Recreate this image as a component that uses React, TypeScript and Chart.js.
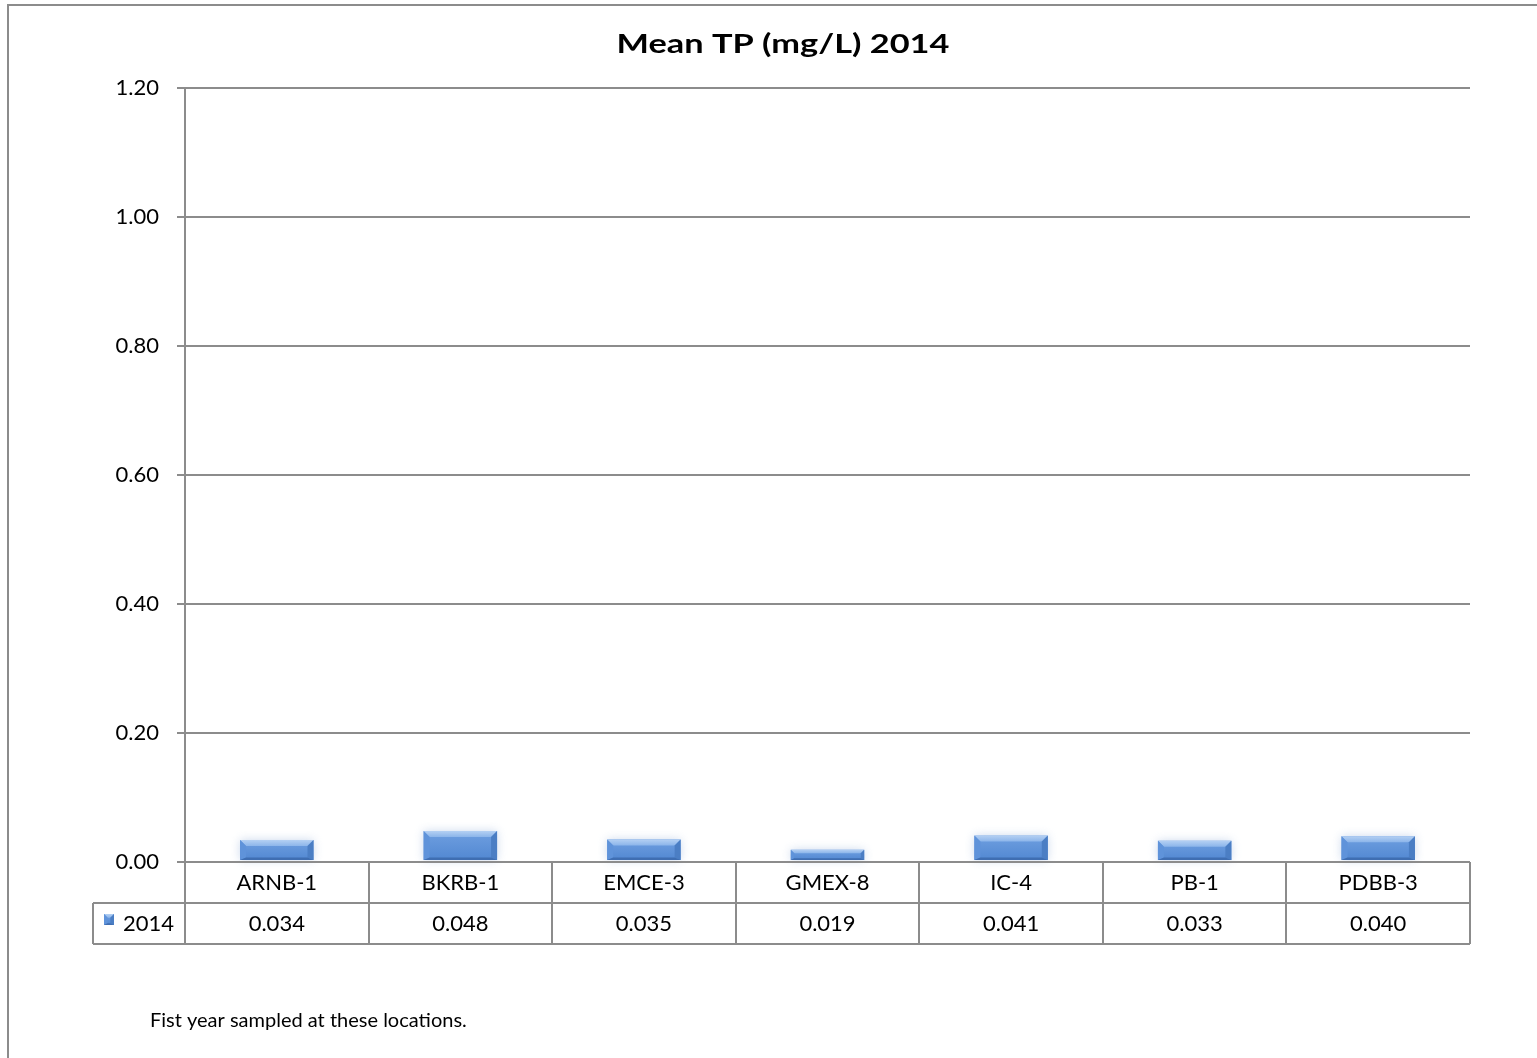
import { useEffect, useRef } from 'react';
import { Chart, registerables } from 'chart.js';

Chart.register(...registerables);

const chartTitle = 'Mean TP (mg/L) 2014';
const sites = ['ARNB-1', 'BKRB-1', 'EMCE-3', 'GMEX-8', 'IC-4', 'PB-1', 'PDBB-3'];
const seriesName = '2014';
const meanTP = [0.034, 0.048, 0.035, 0.019, 0.041, 0.033, 0.04];
const yTicks = [0, 0.2, 0.4, 0.6, 0.8, 1.0, 1.2];
const footnote = 'Fist year sampled at these locations.';

const FONT = 'Lato, "Open Sans", sans-serif';
const LINE = '#8c8c8c';

// Bevelled bar face: light top edge, shaded sides, thin dark base.
function fillBevel(ctx: CanvasRenderingContext2D, left: number, top: number, right: number, bottom: number, glow = true) {
  const h = bottom - top;
  const b = Math.max(1, Math.min(6, h / 3));
  const bb = Math.max(1, Math.min(2.5, h / 6));
  ctx.save();
  if (glow) {
    ctx.shadowColor = 'rgba(140,170,215,0.45)';
    ctx.shadowBlur = 10;
  }
  const face = ctx.createLinearGradient(0, top, 0, bottom);
  face.addColorStop(0, '#6f9fe0');
  face.addColorStop(1, '#5288d2');
  ctx.fillStyle = face;
  ctx.fillRect(left, top, right - left, h);
  ctx.restore();
  const poly = (pts: number[][], color: string | CanvasGradient) => {
    ctx.beginPath();
    ctx.moveTo(pts[0][0], pts[0][1]);
    for (let i = 1; i < pts.length; i++) ctx.lineTo(pts[i][0], pts[i][1]);
    ctx.closePath();
    ctx.fillStyle = color;
    ctx.fill();
  };
  const topGrad = ctx.createLinearGradient(0, top, 0, top + b);
  topGrad.addColorStop(0, '#b4d0f3');
  topGrad.addColorStop(1, '#8cb5ea');
  poly([[left, top], [right, top], [right - b, top + b], [left + b, top + b]], topGrad);
  poly([[left, top], [left + b, top + b], [left + b, bottom - bb], [left, bottom]], '#5f93da');
  poly([[right, top], [right, bottom], [right - b, bottom - bb], [right - b, top + b]], '#4b7ec4');
  poly([[left, bottom], [left + b, bottom - bb], [right - b, bottom - bb], [right, bottom]], '#3f6eb2');
}

const bevelBars = {
  id: 'bevelBars',
  afterDatasetsDraw(chart: Chart) {
    const ctx = chart.ctx;
    const meta = chart.getDatasetMeta(0);
    meta.data.forEach((el: any) => {
      const { x, y, base, width } = el.getProps(['x', 'y', 'base', 'width'], true);
      fillBevel(ctx, x - width / 2, y, x + width / 2, base - 1);
    });
  },
};

const frameAndTable = {
  id: 'frameAndTable',
  afterDraw(chart: Chart) {
    const ctx = chart.ctx;
    const xs = chart.scales.x;
    const area = chart.chartArea;
    const rowTop = area.bottom;
    const rowMid = rowTop + 41;
    const rowBot = rowTop + 82;
    const legendLeft = 93;
    ctx.save();

    // outer frame
    ctx.strokeStyle = LINE;
    ctx.lineWidth = 2;
    ctx.beginPath();
    ctx.moveTo(8, chart.height + 2);
    ctx.lineTo(8, 5);
    ctx.lineTo(chart.width + 2, 5);
    ctx.stroke();

    // title, set wide
    ctx.save();
    ctx.fillStyle = '#000';
    ctx.font = `bold 26px ${FONT}`;
    ctx.textAlign = 'center';
    ctx.textBaseline = 'alphabetic';
    ctx.translate(783, 53);
    ctx.scale(1.32, 1);
    ctx.fillText(chartTitle, 0, 0);
    ctx.restore();

    // data table grid
    const step = (area.right - area.left) / sites.length;
    ctx.beginPath();
    ctx.moveTo(area.left, rowTop);
    ctx.lineTo(area.right, rowTop);
    ctx.moveTo(legendLeft, rowMid);
    ctx.lineTo(area.right, rowMid);
    ctx.moveTo(legendLeft, rowBot);
    ctx.lineTo(area.right, rowBot);
    ctx.moveTo(legendLeft, rowMid);
    ctx.lineTo(legendLeft, rowBot);
    for (let i = 0; i <= sites.length; i++) {
      const x = Math.round(area.left + i * step);
      ctx.moveTo(x, i === 0 ? area.top : rowTop);
      ctx.lineTo(x, rowBot);
    }
    ctx.stroke();

    ctx.fillStyle = '#000';
    ctx.font = `22px ${FONT}`;
    ctx.textAlign = 'center';
    ctx.textBaseline = 'middle';
    sites.forEach((s, i) => {
      const cx = xs.getPixelForValue(i);
      ctx.fillText(s, cx, rowTop + 21);
      ctx.fillText(meanTP[i].toFixed(3), cx, rowMid + 21);
    });

    // legend key
    fillBevel(ctx, 104, 914, 114, 925, false);
    ctx.fillStyle = '#000';
    ctx.textAlign = 'left';
    ctx.fillText(seriesName, 123, rowMid + 21);

    // footnote
    ctx.font = `20px ${FONT}`;
    ctx.fillText(footnote, 150, 1021);
    ctx.restore();
  },
};

export default function App() {
  const ref = useRef<HTMLCanvasElement | null>(null);
  useEffect(() => {
    if (!ref.current) return;
    const chart = new Chart(ref.current, {
      type: 'bar',
      data: {
        labels: sites,
        datasets: [
          {
            label: seriesName,
            data: meanTP,
            backgroundColor: 'rgba(0,0,0,0)',
            barPercentage: 0.4,
            categoryPercentage: 1,
          },
        ],
      },
      options: {
        animation: false,
        responsive: false,
        devicePixelRatio: 1,
        layout: { padding: { top: 88, right: 67, bottom: 196, left: 0 } },
        plugins: { legend: { display: false }, tooltip: { enabled: false }, title: { display: false } },
        scales: {
          x: { display: false },
          y: {
            min: 0,
            max: 1.2,
            afterFit: (s: any) => {
              s.width = 185;
            },
            afterBuildTicks: (s: any) => {
              s.ticks = yTicks.map((v) => ({ value: v }));
            },
            ticks: {
              padding: 18,
              color: '#000',
              font: { family: FONT, size: 22 },
              callback: (v: any) => Number(v).toFixed(2),
            },
            grid: { color: LINE, lineWidth: 2, tickLength: 8, drawTicks: true },
            border: { color: LINE, width: 2 },
          },
        },
      },
      plugins: [bevelBars, frameAndTable],
    });
    return () => chart.destroy();
  }, []);
  return (
    <div style={{ position: 'absolute', left: 0, top: 0, width: 1537, height: 1058 }}>
      <canvas ref={ref} width={1537} height={1058} style={{ width: 1537, height: 1058 }} />
    </div>
  );
}
